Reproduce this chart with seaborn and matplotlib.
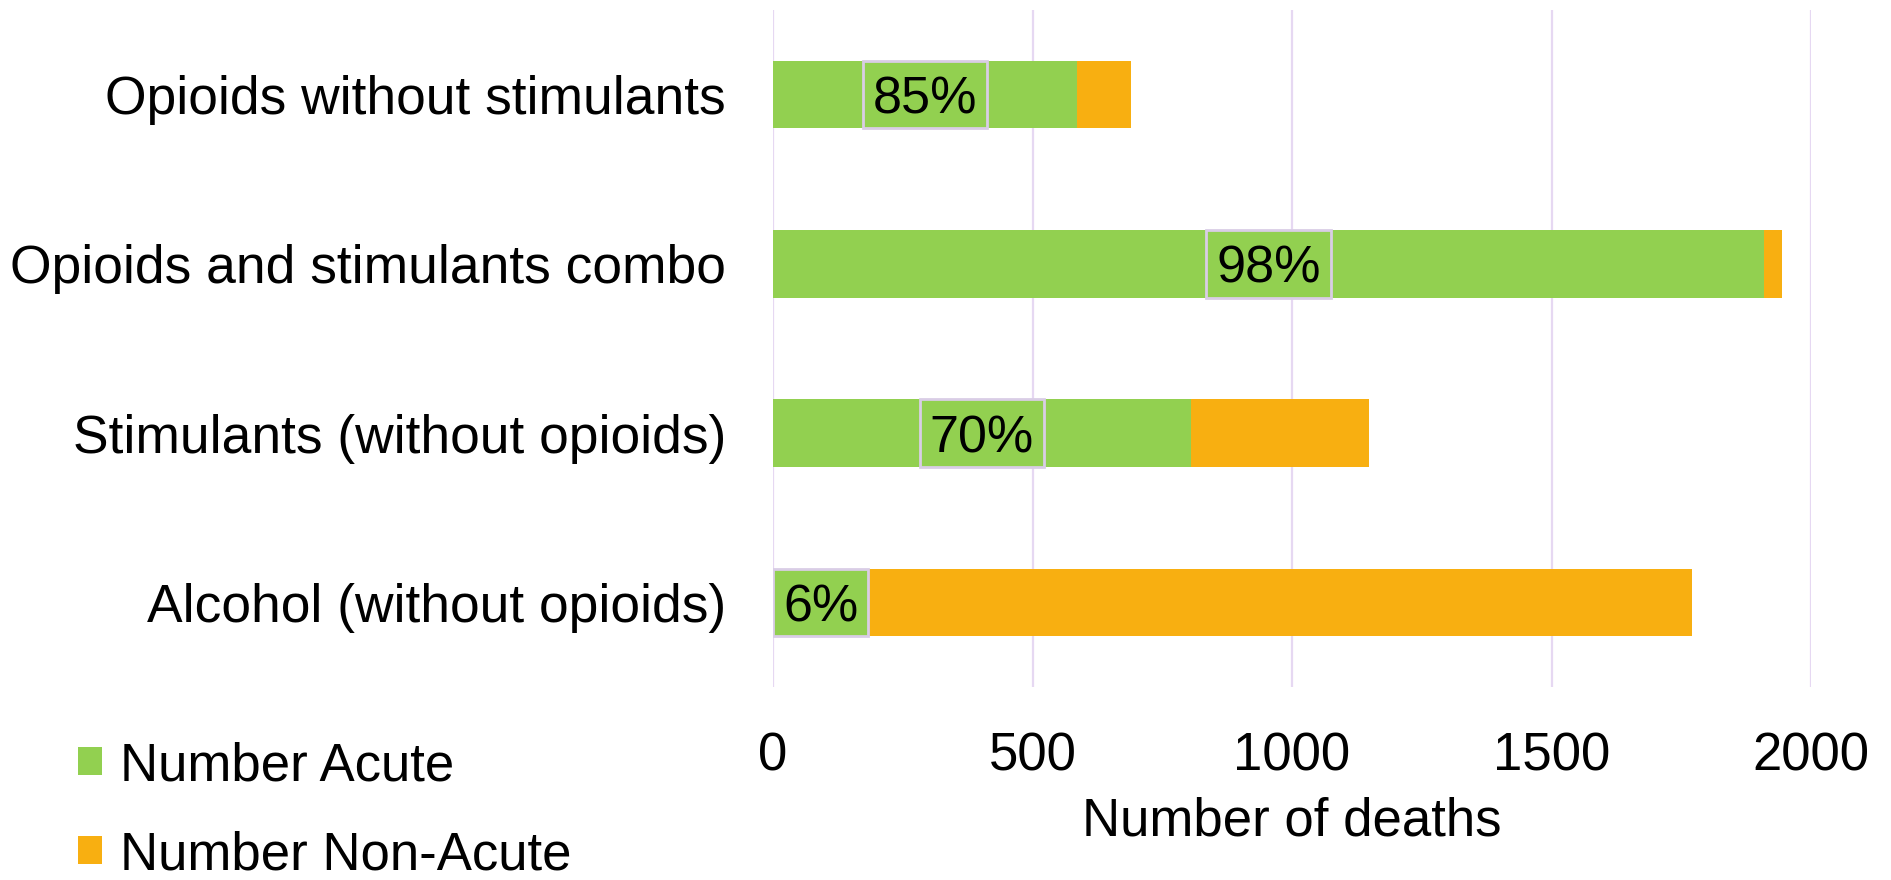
import matplotlib
matplotlib.use("Agg")
import matplotlib.pyplot as plt
import seaborn as sns
import pandas as pd
from matplotlib.patches import Rectangle, Patch

# ---- data ----
categories = ["Opioids without stimulants", "Opioids and stimulants combo",
              "Stimulants (without opioids)", "Alcohol (without opioids)"]
acute = [585, 1910, 805, 106]
non_acute = [105, 35, 343, 1664]
pct_labels = ["85%", "98%", "70%", "6%"]
x_ticks = [0, 500, 1000, 1500, 2000]
series_names = ["Number Acute", "Number Non-Acute"]
x_title = "Number of deaths"

GREEN = "#92D050"
ORANGE = "#F8AF11"
GRID = "#E6D8F2"
BOXEDGE = "#D9CDE6"

sns.set_theme(style="white")
plt.rcParams['font.family'] = ['Liberation Sans', 'DejaVu Sans']
plt.rcParams['text.color'] = 'black'
plt.rcParams['axes.labelcolor'] = 'black'

df = pd.DataFrame({"category": categories, "acute": acute, "non_acute": non_acute})
df["total"] = df["acute"] + df["non_acute"]

W, H = 1891, 880
fig = plt.figure(figsize=(W / 100, H / 100), dpi=100)
ax = fig.add_axes([773 / W, 1 - 687 / H, (1811 - 773) / W, (687 - 10) / H])

sns.barplot(data=df, y="category", x="total", color=ORANGE, orient="h",
            width=0.4, saturation=1, ax=ax, zorder=2, linewidth=0)
sns.barplot(data=df, y="category", x="acute", color=GREEN, orient="h",
            width=0.4, saturation=1, ax=ax, zorder=3, linewidth=0)

ax.set_xlim(0, 2000)
ax.set_xticks(x_ticks)
ax.set_xticklabels([str(t) for t in x_ticks])
ax.xaxis.grid(True, color=GRID, linewidth=1.6, zorder=0)
ax.yaxis.grid(False)
ax.set_axisbelow(True)
for s in ax.spines.values():
    s.set_visible(False)
ax.tick_params(axis="x", length=0, labelsize=38, pad=32, colors="black")
ax.tick_params(axis="y", length=0, labelsize=38.4, pad=34, colors="black")
ax.set_ylabel("")
ax.set_xlabel(x_title, fontsize=38, labelpad=11, color="black")

# percentage labels in boxes, clamped to the plot area
fig.canvas.draw()
renderer = fig.canvas.get_renderer()
ax_bb = ax.get_window_extent(renderer)
inv = ax.transData.inverted()
padx = 10
for i, (a, lab) in enumerate(zip(acute, pct_labels)):
    t = ax.text(a / 2, i, lab, ha="center", va="center_baseline", fontsize=37.5,
                color="black", zorder=6)
    bb = t.get_window_extent(renderer)
    cx = (bb.x0 + bb.x1) / 2
    half = bb.width / 2 + padx
    if cx - half < ax_bb.x0:
        cx = ax_bb.x0 + half
    x0d = inv.transform((cx - half, 0))[0]
    x1d = inv.transform((cx + half, 0))[0]
    cxd = inv.transform((cx, 0))[0]
    t.set_x(cxd)
    ax.add_patch(Rectangle((x0d, i - 0.2), x1d - x0d, 0.4, facecolor=GREEN,
                           edgecolor=BOXEDGE, linewidth=2, zorder=5))

handles = [Patch(facecolor=GREEN, edgecolor="none"),
           Patch(facecolor=ORANGE, edgecolor="none")]
fig.legend(handles, series_names, loc="upper left",
           bbox_to_anchor=(78 / W, 1 - 741 / H), frameon=False, fontsize=38,
           handlelength=0.45, handleheight=0.45, handletextpad=0.35,
           labelspacing=0.74, borderpad=0, borderaxespad=0, labelcolor="black")

fig.savefig("out.png", dpi=100)
